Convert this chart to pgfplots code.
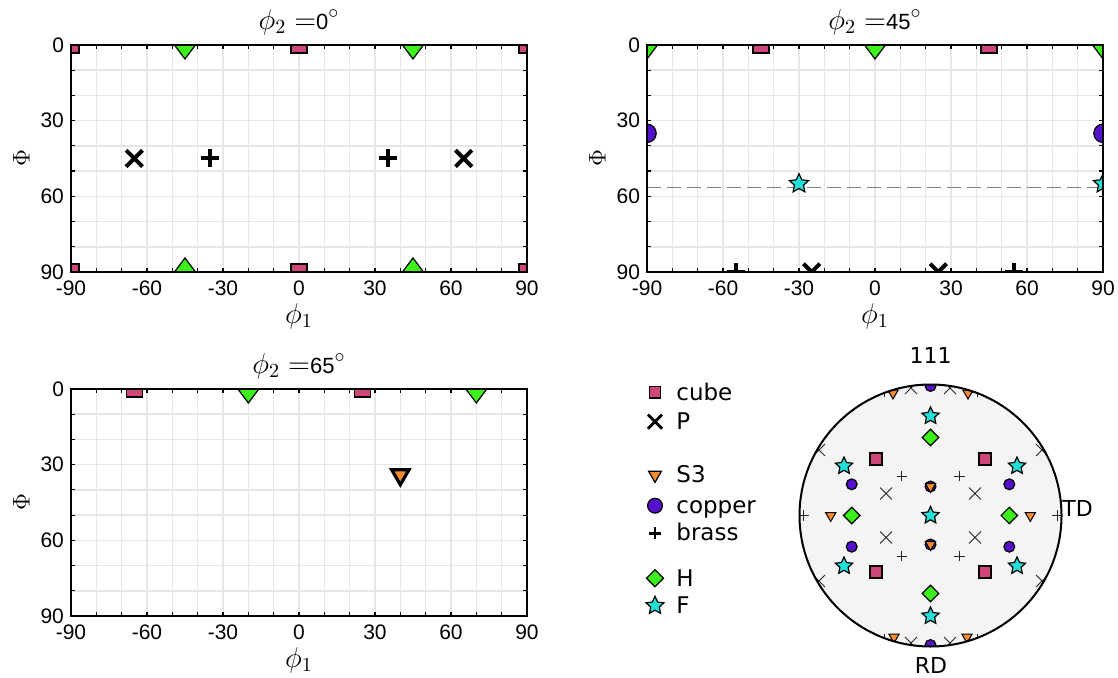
\documentclass[border=0pt]{standalone}
\usepackage{pgfplots}
\pgfplotsset{compat=1.18}
\usepackage{fontspec}
\setmainfont{Liberation Sans}
\newfontfamily\dv{DejaVu Sans}
\definecolor{cubec}{HTML}{D0457A}
\definecolor{copperc}{HTML}{5510CC}
\definecolor{hc}{HTML}{3CF01A}
\definecolor{fc}{HTML}{22E0D8}
\definecolor{s3c}{HTML}{F58B30}
\definecolor{pfill}{HTML}{F4F4F4}
\definecolor{gridc}{HTML}{E6E6E6}
\pgfdeclareplotmark{fstar}{%
  \pgfpathmoveto{\pgfpointpolar{90}{\pgfplotmarksize}}%
  \pgfpathlineto{\pgfpointpolar{126}{0.48\pgfplotmarksize}}%
  \pgfpathlineto{\pgfpointpolar{162}{\pgfplotmarksize}}%
  \pgfpathlineto{\pgfpointpolar{198}{0.48\pgfplotmarksize}}%
  \pgfpathlineto{\pgfpointpolar{234}{\pgfplotmarksize}}%
  \pgfpathlineto{\pgfpointpolar{270}{0.48\pgfplotmarksize}}%
  \pgfpathlineto{\pgfpointpolar{306}{\pgfplotmarksize}}%
  \pgfpathlineto{\pgfpointpolar{342}{0.48\pgfplotmarksize}}%
  \pgfpathlineto{\pgfpointpolar{18}{\pgfplotmarksize}}%
  \pgfpathlineto{\pgfpointpolar{54}{0.48\pgfplotmarksize}}%
  \pgfpathclose\pgfusepathqfillstroke}
\newcommand{\ttl}[1]{\fontsize{14}{16}\selectfont$\phi_2 =${\fontsize{11}{13}\selectfont #1}$^\circ$}
\pgfplotsset{
 odf/.style={scale only axis, width=228pt, height=113.5pt, anchor=north west,
  xmin=-90, xmax=90, ymin=0, ymax=90, y dir=reverse,
  xtick={-90,-60,-30,0,30,60,90}, xticklabels={-90,-60,-30,0,30,60,90},
  ytick={0,30,60,90}, yticklabels={0,30,60,90},
  minor xtick={-80,-70,-50,-40,-20,-10,10,20,40,50,70,80},
  minor ytick={10,20,40,50,70,80},
  grid=both, grid style={gridc, line width=0.8pt}, minor grid style={gridc, line width=0.8pt},
  tick align=inside, major tick length=2.2pt, minor tick length=2.2pt,
  tick style={black, line width=0.6pt},
  axis line style={line width=1.2pt},
  clip marker paths=true,
  tick label style={font=\fontsize{10.5}{12}\selectfont},
  xticklabel style={yshift=-1pt},
  xlabel={$\phi_1$}, ylabel={$\Phi$},
  xlabel style={at={(axis description cs:0.5,-0.194)}, anchor=center, font=\fontsize{14}{16}\selectfont},
  ylabel style={at={(axis description cs:-0.109,0.5)}, anchor=center, font=\fontsize{13}{15}\selectfont},
  every axis title/.style={at={(axis description cs:0.5,1)}, anchor=base, yshift=7.8pt},
 },
 cubeO/.style={only marks, mark=square*, mark size=4pt, mark options={fill=cubec, draw=black, line width=0.6pt}},
 hO/.style={only marks, mark=diamond*, mark size=7pt, mark options={fill=hc, draw=black, line width=0.6pt}},
 pO/.style={only marks, mark=x, mark size=5.8pt, mark options={draw=black, line width=2pt}},
 brassO/.style={only marks, mark=+, mark size=4.5pt, mark options={draw=black, line width=2pt}},
 copperO/.style={only marks, mark=*, mark size=4.6pt, mark options={fill=copperc, draw=black, line width=0.6pt}},
 fO/.style={only marks, mark=fstar, mark size=5pt, mark options={fill=fc, draw=black, line width=0.6pt}},
 s3O/.style={only marks, mark=triangle*, mark size=5pt, mark options={fill=s3c, draw=black, line width=1.6pt, rotate=180}},
 cubeP/.style={only marks, mark=square*, mark size=3pt, mark options={fill=cubec, draw=black, line width=0.6pt}},
 pP/.style={only marks, mark=x, mark size=4.2pt, mark options={draw=black!85, line width=0.5pt}},
 brassP/.style={only marks, mark=+, mark size=2.6pt, mark options={draw=black!85, line width=0.5pt}},
 copperP/.style={only marks, mark=*, mark size=2.7pt, mark options={fill=copperc, draw=black, line width=0.6pt}},
 hP/.style={only marks, mark=square*, mark size=2.9pt, mark options={fill=hc, draw=black, line width=0.6pt, rotate=45}},
 fP/.style={only marks, mark=fstar, mark size=4.5pt, mark options={fill=fc, draw=black, line width=0.6pt}},
 s3P/.style={only marks, mark=triangle*, mark size=3pt, mark options={fill=s3c, draw=black, line width=0.5pt, rotate=180}},
}
\begin{document}
\begin{tikzpicture}
\path[use as bounding box] (0,0) rectangle (559pt,-339pt);
% phi2 = 0
\begin{axis}[odf, at={(35.5pt,-22.5pt)}, title={\ttl{0}}]
\addplot[cubeO] coordinates {(-90,0) (0,0) (90,0) (-90,90) (0,90) (90,90)};
\addplot[hO] coordinates {(-45,0) (45,0) (-45,90) (45,90)};
\addplot[pO] coordinates {(-65,45) (65,45)};
\addplot[brassO] coordinates {(-35,45) (35,45)};
\draw[line width=1.2pt] (rel axis cs:0,0) rectangle (rel axis cs:1,1);
\end{axis}
% phi2 = 45
\begin{axis}[odf, at={(323.5pt,-22.5pt)}, title={\ttl{45}}]
\addplot[gray, line width=0.6pt, dash pattern=on 7pt off 3pt] coordinates {(-90,56.5) (90,56.5)};
\addplot[cubeO] coordinates {(-45,0) (45,0)};
\addplot[hO] coordinates {(-90,0) (0,0) (90,0)};
\addplot[copperO] coordinates {(-90,35) (90,35)};
\addplot[fO] coordinates {(-30,55) (90,55)};
\addplot[brassO] coordinates {(-55,90) (55,90)};
\addplot[pO] coordinates {(-25,90) (25,90)};
\draw[line width=1.2pt] (rel axis cs:0,0) rectangle (rel axis cs:1,1);
\end{axis}
% phi2 = 65
\begin{axis}[odf, at={(35.5pt,-194.5pt)}, title={\ttl{65}}]
\addplot[cubeO] coordinates {(-65,0) (25,0)};
\addplot[hO] coordinates {(-20,0) (70,0)};
\addplot[s3O] coordinates {(40,34)};
\draw[line width=1.2pt] (rel axis cs:0,0) rectangle (rel axis cs:1,1);
\end{axis}
% pole figure and legend (axis units = pixels)
\begin{axis}[scale only axis, width=249pt, height=174pt, anchor=north west, at={(310pt,-165pt)},
  xmin=620, xmax=1118, ymin=-678, ymax=-330, hide axis, clip=false, clip marker paths=true]
\fill[pfill] (axis cs:930.5,-515.5) circle[radius=131];
\addplot[cubeP] coordinates {(876,-459) (985,-459) (876,-572) (985,-572)};
\addplot[pP] coordinates {(886,-493.5) (975,-493.5) (886,-537.5) (975,-537.5) (819,-450) (1042,-450) (819,-581) (1042,-581) (911,-388) (950,-388) (911,-643) (950,-643)};
\addplot[copperP] coordinates {(851.7,-484.3) (1009.3,-484.3) (851.7,-546.7) (1009.3,-546.7) (930.5,-486.5) (930.5,-544.5) (930.5,-386) (930.5,-645)};
\addplot[s3P] coordinates {(830.7,-515.5) (1030.3,-515.5) (930.5,-486.5) (930.5,-544.5) (893,-393) (968,-393) (894,-637) (967,-637)};
\addplot[brassP] coordinates {(901.7,-476) (959.3,-476) (901.7,-556) (959.3,-556) (803.5,-515.5) (1057.5,-515.5) (884,-392) (977,-392) (884,-639) (977,-639)};
\addplot[hP] coordinates {(930.5,-437.5) (930.5,-593.5) (851.7,-515.5) (1009.3,-515.5)};
\addplot[fP] coordinates {(930.5,-416) (930.5,-616) (930.5,-515.5) (844,-466) (1017,-466) (844,-566) (1017,-566)};
\fill[white, even odd rule] (axis cs:930.5,-515.5) circle[radius=145] circle[radius=131];
\draw[line width=1pt] (axis cs:930.5,-515.5) circle[radius=131];
\node[font=\dv\fontsize{11}{13}\selectfont] at (axis cs:930.5,-355.5) {111};
\node[font=\dv\fontsize{11}{13}\selectfont, anchor=west, inner sep=0pt] at (axis cs:1062,-508) {TD};
\node[font=\dv\fontsize{11}{13}\selectfont] at (axis cs:931,-665) {RD};
% legend
\addplot[only marks, mark=square*, mark size=2.8pt, mark options={fill=cubec, draw=black, line width=0.6pt}] coordinates {(655,-392.3)};
\addplot[only marks, mark=x, mark size=5pt, mark options={draw=black, line width=1.4pt}] coordinates {(655,-421.7)};
\addplot[only marks, mark=triangle*, mark size=3.7pt, mark options={fill=s3c, draw=black, line width=0.6pt, rotate=180}] coordinates {(655,-475)};
\addplot[only marks, mark=*, mark size=3.7pt, mark options={fill=copperc, draw=black, line width=0.6pt}] coordinates {(655,-505.7)};
\addplot[only marks, mark=+, mark size=3pt, mark options={draw=black, line width=1.4pt}] coordinates {(655,-533.3)};
\addplot[only marks, mark=square*, mark size=3pt, mark options={fill=hc, draw=black, line width=0.6pt, rotate=45}] coordinates {(655,-578.3)};
\addplot[only marks, mark=fstar, mark size=4.7pt, mark options={fill=fc, draw=black, line width=0.6pt}] coordinates {(655,-605.7)};
\begin{scope}[font=\dv\fontsize{11.5}{13}\selectfont]
\node[anchor=base west, inner sep=0pt] at (axis cs:676,-400) {cube};
\node[anchor=base west, inner sep=0pt] at (axis cs:676,-429.5) {P};
\node[anchor=base west, inner sep=0pt] at (axis cs:676,-482.5) {S3};
\node[anchor=base west, inner sep=0pt] at (axis cs:676,-513) {copper};
\node[anchor=base west, inner sep=0pt] at (axis cs:676,-540.8) {brass};
\node[anchor=base west, inner sep=0pt] at (axis cs:676,-586) {H};
\node[anchor=base west, inner sep=0pt] at (axis cs:676,-613.2) {F};
\end{scope}
\end{axis}
\end{tikzpicture}
\end{document}
